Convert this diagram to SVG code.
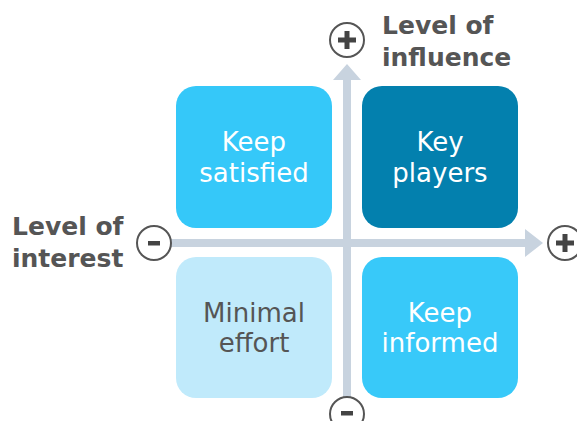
<svg xmlns="http://www.w3.org/2000/svg" width="577" height="421" viewBox="0 0 577 421">
<style>
.box{stroke:none}
.bt{font-family:"DejaVu Sans",sans-serif;font-size:26px;text-anchor:middle}
.lbl{font-family:"DejaVu Sans",sans-serif;font-weight:bold;font-size:25px;fill:#555555}
.circ{fill:#ffffff;stroke:#555555;stroke-width:2}
.sign{fill:#444444}
.axis{fill:#c8d3df}
</style>
<rect width="577" height="421" fill="#ffffff"/>
<g id="connectors">
<rect class="axis" x="343" y="78" width="8" height="322"/>
<polygon class="axis" points="347,64 333,80 361,80"/>
<rect class="axis" x="170" y="239" width="357" height="8"/>
<polygon class="axis" points="543,243 525,229 525,257"/>
</g>
<g id="keep-satisfied">
<rect class="box" x="176" y="86" width="156" height="142" rx="20" fill="#35c8f9"/>
<text class="bt" fill="#ffffff"><tspan x="254" y="151">Keep</tspan><tspan x="254" y="182">satisfied</tspan></text>
</g>
<g id="key-players">
<rect class="box" x="362" y="86" width="156" height="142" rx="20" fill="#0380ae"/>
<text class="bt" fill="#ffffff"><tspan x="440" y="151">Key</tspan><tspan x="440" y="182">players</tspan></text>
</g>
<g id="minimal-effort">
<rect class="box" x="176" y="257" width="156" height="141" rx="20" fill="#c0eafb"/>
<text class="bt" fill="#555555"><tspan x="254" y="322">Minimal</tspan><tspan x="254" y="352">effort</tspan></text>
</g>
<g id="keep-informed">
<rect class="box" x="362" y="257" width="156" height="141" rx="20" fill="#38c9f9"/>
<text class="bt" fill="#ffffff"><tspan x="440" y="322">Keep</tspan><tspan x="440" y="352">informed</tspan></text>
</g>
<g id="influence-plus">
<circle class="circ" cx="347" cy="40" r="17"/>
<rect class="sign" x="338" y="37.5" width="18" height="5"/>
<rect class="sign" x="344.5" y="31" width="5" height="18"/>
</g>
<g id="influence-label">
<text class="lbl"><tspan x="382" y="34">Level of</tspan><tspan x="382" y="66">influence</tspan></text>
</g>
<g id="interest-minus">
<circle class="circ" cx="154" cy="243" r="17"/>
<rect class="sign" x="148" y="241" width="12" height="4.5"/>
</g>
<g id="interest-label">
<text class="lbl"><tspan x="12" y="235">Level of</tspan><tspan x="12" y="267">interest</tspan></text>
</g>
<g id="interest-plus">
<circle class="circ" cx="565" cy="243" r="17"/>
<rect class="sign" x="556" y="240.5" width="18" height="5"/>
<rect class="sign" x="562.5" y="234" width="5" height="18"/>
</g>
<g id="influence-minus">
<circle class="circ" cx="347" cy="414" r="17"/>
<rect class="sign" x="341" y="411" width="12" height="4.5"/>
</g>
</svg>
